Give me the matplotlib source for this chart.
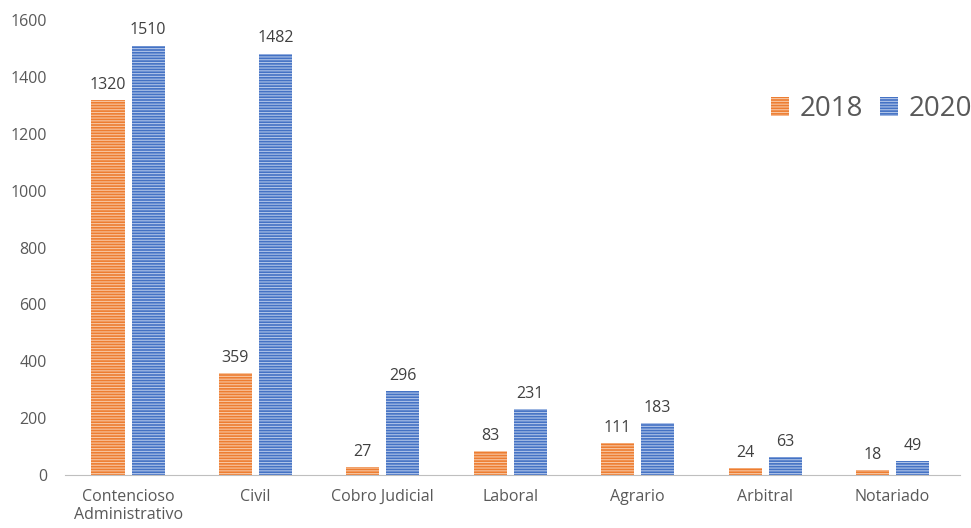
import numpy as np
import matplotlib.pyplot as plt

plt.rcParams['font.family'] = ['Open Sans', 'DejaVu Sans']
plt.rcParams['hatch.linewidth'] = 0.8

categories = ['Contencioso\nAdministrativo', 'Civil', 'Cobro Judicial', 'Laboral',
              'Agrario', 'Arbitral', 'Notariado']
vals_2018 = [1320, 359, 27, 83, 111, 24, 18]
vals_2020 = [1510, 1482, 296, 231, 183, 63, 49]

orange = '#ed7d31'
blue = '#4472c4'

fig = plt.figure(figsize=(9.71, 5.28), dpi=100)
ax = fig.add_axes([65 / 971, 53 / 528, 895 / 971, 455 / 528])

x = np.arange(len(categories))
w = 0.26
off = 0.157
b1 = ax.bar(x - off, vals_2018, w, color=orange, edgecolor='#f8c6a2',
            hatch='------', linewidth=0, label='2018')
b2 = ax.bar(x + off, vals_2020, w, color=blue, edgecolor='#b0c4e8',
            hatch='------', linewidth=0, label='2020')

for bars, vals in ((b1, vals_2018), (b2, vals_2020)):
    for r, v in zip(bars, vals):
        ax.text(r.get_x() + r.get_width() / 2, v + 25, str(v), ha='center', va='bottom',
                fontsize=11.5, color='#404040')

ax.set_xlim(-0.495, 6.53)
ax.set_ylim(0, 1600)
ax.set_yticks(range(0, 1601, 200))
ax.set_xticks(x)
ax.set_xticklabels(categories)
ax.tick_params(axis='both', length=0, labelsize=11.5, labelcolor='#595959')
ax.tick_params(axis='x', pad=10)
ax.tick_params(axis='y', pad=13)
for s in ('top', 'right', 'left'):
    ax.spines[s].set_visible(False)
ax.spines['bottom'].set_color('#bfbfbf')

leg = ax.legend(loc='upper right', bbox_to_anchor=(1.042, 0.89), ncol=2, frameon=False,
                fontsize=20, handlelength=0.65, handleheight=0.65, handletextpad=0.4,
                columnspacing=0.6, labelcolor='#595959')

fig.savefig('out.png', dpi=100)
